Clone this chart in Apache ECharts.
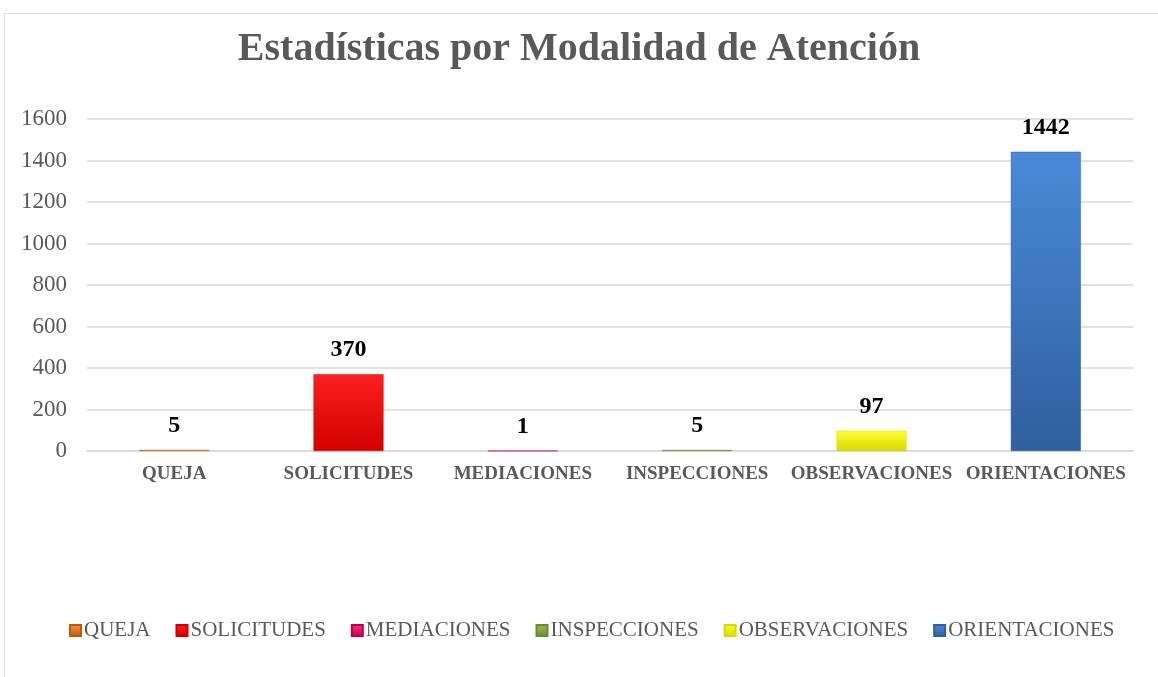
<!DOCTYPE html>
<html>
<head>
<meta charset="utf-8">
<script src="https://cdn.jsdelivr.net/npm/echarts@6/dist/echarts.min.js"></script>
<style>
  html, body { margin: 0; padding: 0; background: #fff; }
  #frame {
    position: absolute; left: 4px; top: 13px; width: 1160px; height: 670px;
    border-left: 1px solid #d9d9d9; border-top: 1px solid #d9d9d9;
  }
  #main { position: absolute; left: 0; top: 0; width: 1158px; height: 677px; }
</style>
</head>
<body>
<div id="frame"></div>
<div id="main"></div>
<script>
// categorias y valores
const categories = ['QUEJA', 'SOLICITUDES', 'MEDIACIONES', 'INSPECCIONES', 'OBSERVACIONES', 'ORIENTACIONES']
const values = [5, 370, 1, 5, 97, 1442]
// colores: [claro, oscuro]
const colors = [
  ['#f79646', '#c0580a'],
  ['#ff2020', '#d00000'],
  ['#ff3385', '#c0004c'],
  ['#9bbb59', '#6a8a30'],
  ['#ffff33', '#d8d800'],
  ['#4a8ad8', '#2f5f9f']
]

const chart = echarts.init(document.getElementById('main'))

// una serie por categoria, apiladas para quedar centradas
const series = categories.map((name, i) => {
  const data = categories.map((c, j) => (j === i ? values[i] : null))
  return {
    name: name,
    type: 'bar',
    stack: 'total',
    barWidth: 70,
    data: data,
    itemStyle: {
      color: new echarts.graphic.LinearGradient(0, 0, 0, 1, [
        { offset: 0, color: colors[i][0] },
        { offset: 1, color: colors[i][1] }
      ]),
      borderColor: colors[i][1],
      borderWidth: 0.5
    },
    label: {
      show: true,
      position: 'top',
      distance: 12,
      color: '#000',
      fontFamily: 'Liberation Serif',
      fontWeight: 'bold',
      fontSize: 24
    }
  }
})

chart.setOption({
  animation: false,
  title: {
    text: 'Estadísticas por Modalidad de Atención',
    left: 'center',
    top: 25,
    textStyle: {
      color: '#595959',
      fontFamily: 'Liberation Serif',
      fontWeight: 'bold',
      fontSize: 40
    }
  },
  legend: {
    top: 615,
    left: 64,
    right: 0,
    itemWidth: 11,
    itemHeight: 11,
    itemGap: 25,
    icon: 'rect',
    textStyle: {
      color: '#595959',
      fontFamily: 'Liberation Serif',
      fontSize: 21,
      padding: [0, 0, 0, -2]
    },
    data: categories
  },
  grid: {
    left: 87,
    right: 25,
    top: 119,
    height: 332,
    containLabel: false
  },
  xAxis: {
    type: 'category',
    data: categories,
    axisTick: { show: false },
    axisLine: { lineStyle: { color: '#d9d9d9', width: 1.5 } },
    axisLabel: {
      color: '#595959',
      fontFamily: 'Liberation Serif',
      fontWeight: 'bold',
      fontSize: 19,
      margin: 14,
      interval: 0
    }
  },
  yAxis: {
    type: 'value',
    min: 0,
    max: 1600,
    interval: 200,
    axisLine: { show: false },
    axisTick: { show: false },
    splitLine: { lineStyle: { color: '#d9d9d9', width: 1.5 } },
    axisLabel: {
      color: '#595959',
      fontFamily: 'Liberation Serif',
      fontSize: 23,
      margin: 20,
      formatter: v => String(v)
    }
  },
  series: series
})
</script>
</body>
</html>
